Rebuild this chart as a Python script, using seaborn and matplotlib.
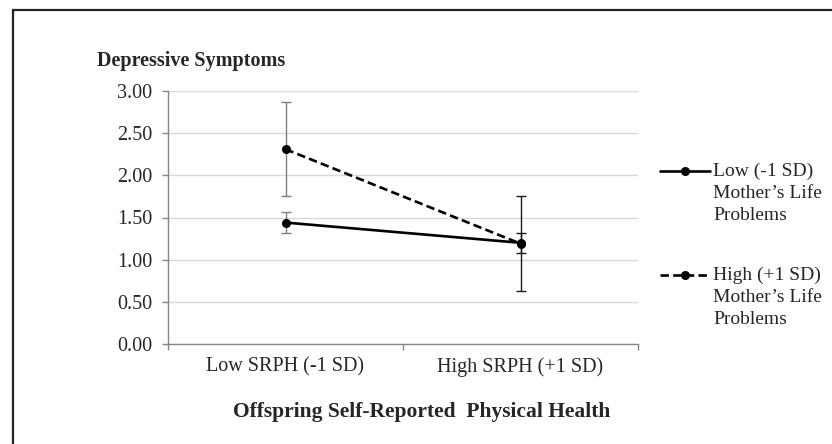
import numpy as np
import pandas as pd
import matplotlib
matplotlib.use("Agg")
import matplotlib.pyplot as plt
from matplotlib.lines import Line2D
from matplotlib.patches import Rectangle
import seaborn as sns

# ── Data ───────────────────────────────────────────────
categories = ["Low SRPH (-1 SD)", "High SRPH (+1 SD)"]
series_names = ["Low (-1 SD)", "High (+1 SD)"]
low_mlp = [1.44, 1.20]
low_mlp_err = [0.12, 0.12]
high_mlp = [2.31, 1.19]
high_mlp_err = [0.56, 0.56]
y_ticks = [0.0, 0.5, 1.0, 1.5, 2.0, 2.5, 3.0]

pos = np.arange(len(categories))
df = pd.DataFrame({
    "pos": np.concatenate([pos, pos]),
    "value": low_mlp + high_mlp,
    "err": low_mlp_err + high_mlp_err,
    "series": [series_names[0]] * len(pos) + [series_names[1]] * len(pos),
})

# ── Style ──────────────────────────────────────────────
sns.set_style("white")
plt.rcParams["font.family"] = ["Liberation Serif", "DejaVu Serif"]
FS_TICK = 14.5
FS_TITLE = 14.5
FS_XLAB = 15.5
FS_LEG = 14
AXIS_GREY = "#868686"
GRID_GREY = "#d9d9d9"
ERR_COLORS = ["#7f7f7f", "#1a1a1a"]
DASHES = {series_names[0]: "", series_names[1]: (3.2, 1.6)}

W, H = 832, 444
fig = plt.figure(figsize=(W / 100, H / 100), dpi=100)
ax = fig.add_axes([168 / W, 1 - 344 / H, (638 - 168) / W, (344 - 91) / H])

# error bars first so markers sit on top
for _, row in df.iterrows():
    ax.errorbar(row["pos"], row["value"], yerr=row["err"], fmt="none",
                ecolor=ERR_COLORS[int(row["pos"])], elinewidth=1.0,
                capsize=3.5, capthick=1.0, zorder=2)

sns.lineplot(data=df, x="pos", y="value", style="series", dashes=DASHES,
             color="black", linewidth=1.9, marker="o", markersize=6.5,
             markeredgewidth=0, legend=False, ax=ax, zorder=3)

# ── Axes ───────────────────────────────────────────────
ax.set_xlim(-0.5, len(categories) - 0.5)
ax.set_ylim(0, 3)
ax.set_yticks(y_ticks)
ax.set_yticklabels([f"{v:.2f}" for v in y_ticks], fontsize=FS_TICK)
ax.set_xticks(pos)
ax.set_xticklabels(categories, fontsize=FS_TICK)
ax.set_xticks(np.arange(-0.5, len(categories), 1.0), minor=True)
ax.tick_params(axis="x", which="major", length=0, pad=9.5)
ax.tick_params(axis="x", which="minor", length=4.5, width=1, color=AXIS_GREY,
               direction="out", bottom=True)
ax.tick_params(axis="y", which="major", length=4.5, width=1, color=AXIS_GREY,
               direction="out", left=True, pad=7)
ax.set_xlabel("")
ax.set_ylabel("")
ax.yaxis.grid(True, color=GRID_GREY, linewidth=1)
ax.xaxis.grid(False)
for side in ["top", "right"]:
    ax.spines[side].set_visible(False)
for side in ["left", "bottom"]:
    ax.spines[side].set_color(AXIS_GREY)
    ax.spines[side].set_linewidth(1)
ax.spines["bottom"].set_zorder(4)

# titles
fig.text(97 / W, 1 - 66 / H, "Depressive Symptoms", fontsize=FS_TITLE,
         fontweight="bold", ha="left", va="baseline")
fig.text(422 / W, 1 - 417 / H, "Offspring Self-Reported  Physical Health",
         fontsize=FS_XLAB, fontweight="bold", ha="center", va="baseline")

# ── Legend (handle aligned with first text line) ───────
legend_rows = [
    (series_names[0], "-", 171),
    (series_names[1], (0, (3.2, 1.6)), 275),
]
for name, ls, yc in legend_rows:
    yf = 1 - yc / H
    fig.add_artist(Line2D([660 / W, 710 / W], [yf, yf], transform=fig.transFigure,
                          color="black", linewidth=1.9, linestyle=ls))
    fig.add_artist(Line2D([685 / W], [yf], transform=fig.transFigure,
                          color="black", marker="o", markersize=6.5,
                          markeredgewidth=0, linestyle="none"))
    for i, txt in enumerate([name, "Mother\u2019s Life", "Problems"]):
        fig.text(713 / W, 1 - (yc + 5 + 22 * i) / H, txt, fontsize=FS_LEG,
                 ha="left", va="baseline")

# outer border of the chart area
fig.add_artist(Rectangle((12.5 / W, -0.1), 1.2, 1.1 - 10.5 / H,
                         transform=fig.transFigure, fill=False,
                         edgecolor="#222222", linewidth=1.6))

fig.savefig("out.png", dpi=100)
plt.close(fig)
